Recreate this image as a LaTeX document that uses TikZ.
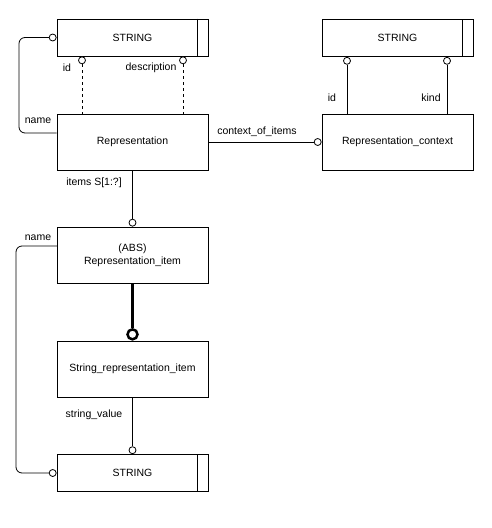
\documentclass[tikz,border=0pt]{standalone}
\usepackage{fontspec}
\setmainfont{Liberation Sans}
\begin{document}
\begin{tikzpicture}[x=1pt,y=-1pt,line width=0.8pt,
  ent/.style={draw,sharp corners,minimum width=151pt,minimum height=56pt,inner sep=0pt,align=center,font=\fontsize{10.5}{13}\selectfont},
  sent/.style={ent,minimum height=37pt},
  oc/.style={draw,circle,fill=white,minimum size=7pt,inner sep=0pt,line width=0.8pt},
  thickoc/.style={draw,circle,fill=white,minimum size=10pt,inner sep=0pt,line width=2.5pt},
  lbl/.style={font=\fontsize{10.5}{13}\selectfont,inner sep=0pt},
  roundlink/.style={rounded corners=6pt}]
\useasboundingbox (0,0) rectangle (491,528);
% entities
\node[sent] (s1) at (132.5,37.5) {STRING};
\node[ent] (rep) at (132.5,142) {Representation};
\node[sent] (s2) at (397.5,38) {STRING};
\node[ent] (ctx) at (397.5,142) {Representation\_context};
\node[ent] (item) at (132.5,255) {(ABS)\\Representation\_item};
\node[ent] (sri) at (132.5,369) {String\_representation\_item};
\node[sent] (s3) at (132.5,473) {STRING};
% type bars
\foreach \s in {s1,s2,s3}
  \draw ([xshift=-11pt]\s.north east) -- ([xshift=-11pt]\s.south east);
% circles
\node[oc,anchor=north] (c1id) at ([xshift=-50.5pt]s1.south) {};
\node[oc,anchor=north] (c1de) at ([xshift=50.5pt]s1.south) {};
\node[oc,anchor=east] (c1na) at (s1.west) {};
\node[oc,anchor=north] (c2id) at ([xshift=-50.5pt]s2.south) {};
\node[oc,anchor=north] (c2ki) at ([xshift=49.5pt]s2.south) {};
\node[oc,anchor=east] (cctx) at (ctx.west) {};
\node[oc,anchor=south] (citem) at (item.north) {};
\node[thickoc,anchor=south] (csri) at (sri.north) {};
\node[oc,anchor=south] (cs3) at (s3.north) {};
\node[oc,anchor=east] (cs3n) at (s3.west) {};
\coordinate (n1) at (19,133);
\coordinate (n2a) at (57,246);
\coordinate (n2) at (16,246);
% connectors
\draw[dashed] (c1id) -- (c1id |- rep.north);
\draw[dashed] (c1de) -- (c1de |- rep.north);
\draw[roundlink] (c1na.west) -| (n1) -- (n1 -| rep.west);
\draw (c2id) -- (c2id |- ctx.north);
\draw (c2ki) -- (c2ki |- ctx.north);
\draw (rep.east) -- (cctx.west);
\draw (rep.south) -- (citem.north);
\draw[line width=3pt] (item.south) -- (csri.north);
\draw (sri.south) -- (cs3.north);
\draw[roundlink] (n2a) -- (n2) |- (cs3n.west);
% labels
\node[lbl] (lid1) at (67,68) {id};
\node[lbl] (lde1) at (151,68) {description};
\node[lbl] (lna1) at (38,121) {name};
\node[lbl] (lit) at (94,183) {items S[1:?]};
\node[lbl] (lctx) at (257,132) {context\_of\_items};
\node[lbl] (lid2) at (332,98) {id};
\node[lbl] (lki) at (431,98) {kind};
\node[lbl] (lna2) at (38,238) {name};
\node[lbl] (lsv) at (94,415) {string\_value};
\end{tikzpicture}
\end{document}
